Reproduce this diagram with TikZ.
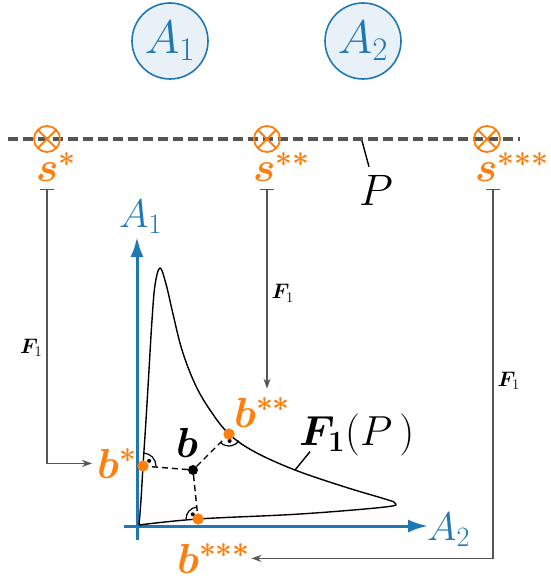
\RequirePackage{fix-cm}
\documentclass[tikz,border=0pt]{standalone}
\usepackage{amsmath,bm}
\definecolor{mlblue}{RGB}{31,119,180}
\definecolor{mlorange}{RGB}{255,127,14}
\definecolor{mlgray}{RGB}{85,85,85}
\usetikzlibrary{arrows.meta,positioning,calc}

\begin{document}
\begin{tikzpicture}[x=1pt,y=1pt,
  every node/.style={inner sep=0pt},
  circlab/.style={circle,draw=mlblue,fill=mlblue!10,line width=1.6pt,
    minimum size=76pt,text=mlblue,font=\fontsize{47}{52}\selectfont},
  otim/.style={circle,draw=mlorange,line width=1.8pt,minimum size=26pt,
    path picture={\draw[mlorange,line width=1.8pt]
      (path picture bounding box.center) +(45:13pt) -- +(225:13pt)
      (path picture bounding box.center) +(135:13pt) -- +(315:13pt);}},
  olab/.style={text=mlorange,font=\fontsize{42}{48}\selectfont,anchor=base west},
  blab/.style={font=\fontsize{42}{48}\selectfont,anchor=base west},
  axlab/.style={text=mlblue,font=\fontsize{40}{46}\selectfont,anchor=base west},
  axline/.style={mlblue,line width=3pt,-{Latex[length=20pt,width=13pt]}},
  dashline/.style={mlgray,line width=4.5pt,dash pattern=on 10pt off 5pt},
  maparrow/.style={mlgray,line width=1.3pt,{Bar[width=14pt]}-{Stealth[length=10pt,width=7pt]}},
  flab/.style={text=black,font=\fontsize{21}{24}\selectfont},
  pinline/.style={black,line width=1.4pt},
  odot/.style={circle,fill=mlorange,minimum size=11pt},
  bdot/.style={circle,fill=black,minimum size=10pt},
  perpline/.style={black,line width=1.4pt,dash pattern=on 6pt off 4pt},
  ortho/.style={black,line width=1.2pt},
]
  \useasboundingbox (0,0) rectangle (550,-580);

  %% Objective circles
  \node[circlab] (cA1) at (170,-41) {$A_1$};
  \node[circlab] (cA2) at (363,-41) {$A_2$};

  %% Pareto set P
  \coordinate (dl) at (8,-139);
  \coordinate (dr) at (520,-139);
  \draw[dashline] (dl) -- (dr);
  \node[otim] (mkA) at (47,-139) {};
  \node[otim] (mkB) at (267,-139) {};
  \node[otim] (mkC) at (487,-139) {};
  \node[olab] (sA) at (36,-182) {$\bm{s}^{\bm{*}}$};
  \node[olab] (sB) at (253,-182) {$\bm{s}^{\bm{**}}$};
  \node[olab] (sC) at (475,-182) {$\bm{s}^{\bm{***}}$};
  \node[blab,font=\fontsize{44}{50}\selectfont] (lP) at (359,-205) {$P$};
  \coordinate (pP) at (362,-141);
  \draw[pinline] (pP) -- ([xshift=10pt,yshift=8pt]lP.north west);

  %% Objective space
  \coordinate (xs) at (124,-526);
  \coordinate (xe) at (428,-526);
  \coordinate (ys) at (137,-540);
  \coordinate (ye) at (137,-237);
  \draw[axline] (xs) -- (xe);
  \draw[axline] (ys) -- (ye);
  \node[axlab] (lA1) at (119,-227) {$A_1$};
  \node[axlab] (lA2) at (427,-540) {$A_2$};

  %% Image F1(P)
  \draw[line width=1.4pt] plot[smooth,tension=0.6] coordinates {
    (139,-525) (141,-500) (143,-466) (146,-420) (149,-370) (152,-320)
    (155,-285) (160,-268) (166,-284) (173,-314) (182,-350) (195,-384)
    (210,-410) (229,-434) (255,-452) (295,-470) (345,-487) (385,-499)
    (395,-503) (385,-507) (300,-514) (198,-519) (139,-525)};
  \node[blab] (lFP) at (299,-445) {$\bm{F_1}(P\,)$};
  \coordinate (cP) at (295,-470);
  \draw[pinline] (cP) -- ([xshift=11pt,yshift=4pt]lFP.south west);

  %% Points and projections
  \node[bdot] (bP) at (193,-470) {};
  \node[odot] (bA) at (143,-466) {};
  \node[odot] (bB) at (229,-434) {};
  \node[odot] (bC) at (198,-519) {};
  \draw[perpline] (bP) -- (bA);
  \draw[perpline] (bP) -- (bB);
  \draw[perpline] (bP) -- (bC);

  \draw[ortho] (bA.center) ++(0:13) arc[start angle=0,end angle=90,radius=13];
  \draw[ortho] (bB.center) ++(225:12) arc[start angle=225,end angle=326,radius=12];
  \draw[ortho] (bC.center) ++(96:12) arc[start angle=96,end angle=180,radius=12];
  \fill ($(bA)+(40:8)$) circle (2);
  \fill ($(bB)+(275:7)$) circle (2);
  \fill ($(bC)+(138:7)$) circle (2);
  \node[odot] at (bA) {};
  \node[odot] at (bB) {};
  \node[odot] at (bC) {};

  \node[olab] (lbA) at (97,-478) {$\bm{b}^{\bm{*}}$};
  \node[olab] (lbB) at (234,-427) {$\bm{b}^{\bm{**}}$};
  \node[olab] (lbC) at (177,-573) {$\bm{b}^{\bm{***}}$};
  \node[blab] (lb) at (176,-457) {$\bm{b}$};

  %% Mapping F1
  \coordinate (fA) at (47,-189);
  \coordinate (fB) at (267,-189);
  \coordinate (fC) at (493,-189);
  \draw[maparrow,shorten >=5pt] (fA) |- (lbA.west)
        node[pos=0.29,left=4pt,flab] {$\bm{F}_1$};
  \draw[maparrow,shorten >=9pt] (fB) -- (fB |- lbB.north)
        node[pos=0.5,right=4pt,flab] {$\bm{F}_1$};
  \draw[maparrow,shorten >=1pt] (fC) |- (lbC.east)
        node[pos=0.26,right=4pt,flab] {$\bm{F}_1$};
\end{tikzpicture}
\end{document}
